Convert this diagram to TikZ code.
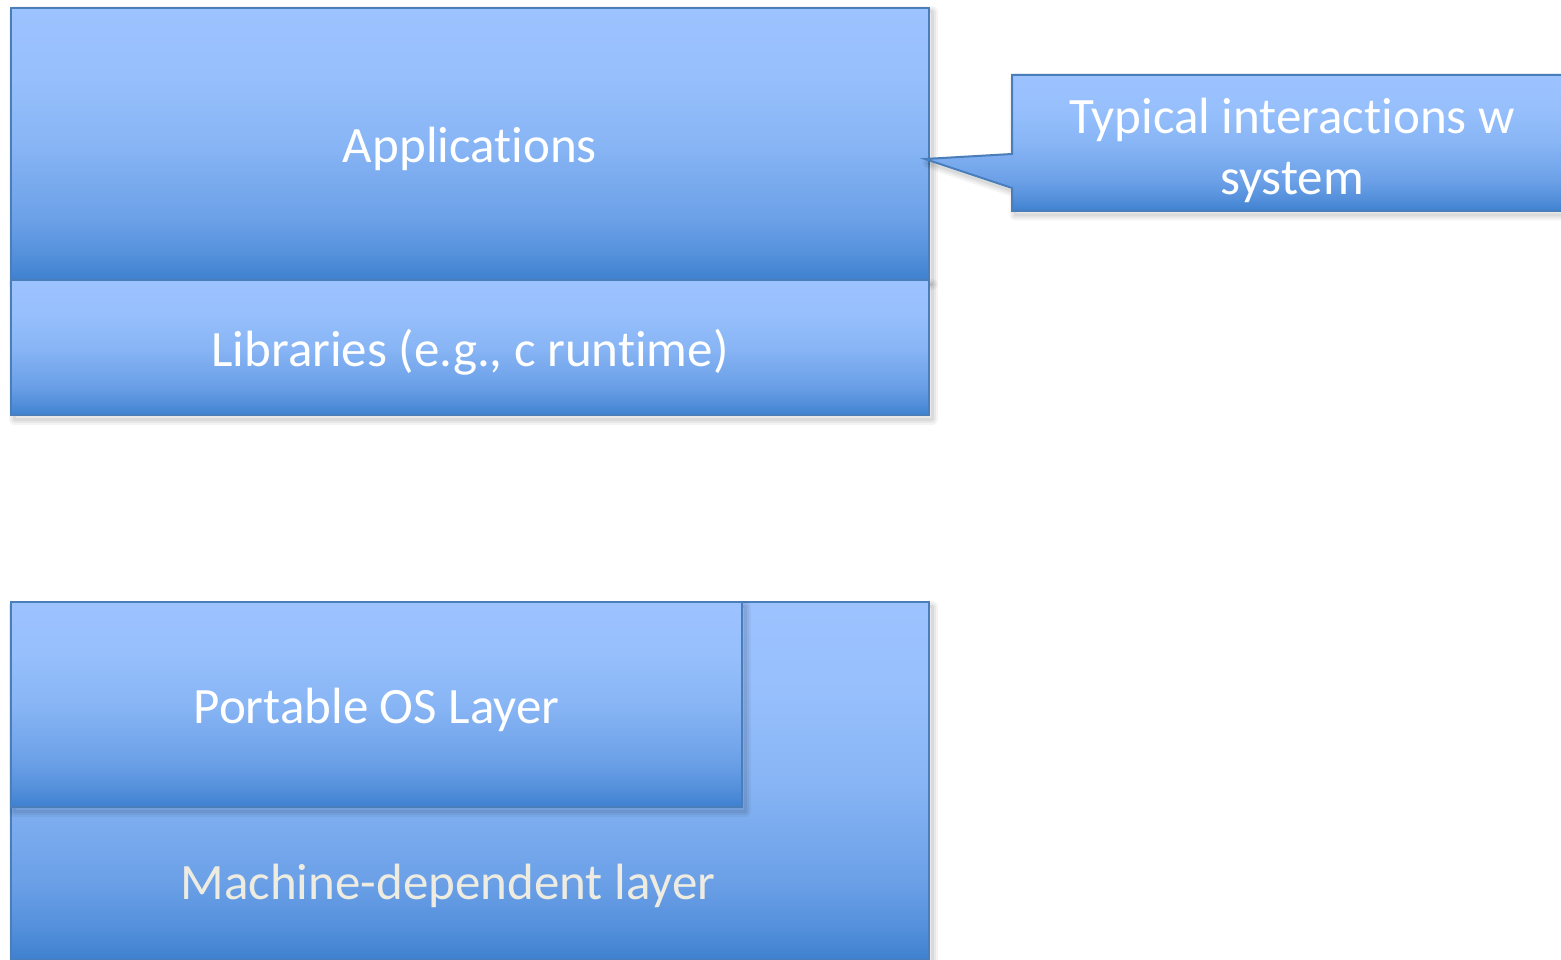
\documentclass[tikz,border=0pt]{standalone}
\usepackage{fontspec}
\setmainfont[RawFeature={-liga}]{Carlito}
\definecolor{boxline}{RGB}{74,126,187}
\definecolor{creamtext}{RGB}{238,236,225}
% Office-style blue fill: light for most of the height, darkening near the bottom
\pgfdeclareverticalshading{layerfill}{100bp}{%
  color(0bp)=(rgb,255:red,62;green,129;blue,208);
  color(25bp)=(rgb,255:red,62;green,129;blue,208);
  color(30bp)=(rgb,255:red,86;green,145;blue,220);
  color(36bp)=(rgb,255:red,107;green,160;blue,231);
  color(50bp)=(rgb,255:red,136;green,181;blue,245);
  color(62bp)=(rgb,255:red,150;green,191;blue,252);
  color(75bp)=(rgb,255:red,157;green,195;blue,255);
  color(100bp)=(rgb,255:red,157;green,195;blue,255)}
\tikzset{
  shadowstroke/.style={draw=black, line join=round, transform canvas={xshift=3pt, yshift=-4pt}},
  softshadow/.style={
    preaction={shadowstroke, draw opacity=0.045, line width=11pt},
    preaction={shadowstroke, draw opacity=0.05, line width=7pt},
    preaction={shadowstroke, draw opacity=0.06, line width=3pt}},
  bluefill/.style={draw=boxline, line width=2pt, shading=layerfill, softshadow},
  txt/.style={font=\fontsize{51}{61}\selectfont},
  layerbox/.style={bluefill, anchor=north west, inner sep=0pt, text=white, txt,
    text height=48pt, text depth=10pt},
  lbl/.style={inner sep=0pt, txt, align=center},
}
\begin{document}
\begin{tikzpicture}[x=1pt, y=-1pt]
  \useasboundingbox (0,0) rectangle (1561,960);
  \clip (0,0) rectangle (1561,960);

  % upper stack
  \node[layerbox, minimum width=918pt, minimum height=272pt] (apps) at (10,7) {Applications};
  \node[layerbox, minimum width=918pt, minimum height=135pt] (libs) at (10,279) {Libraries (e.g., c runtime)};

  % lower stack
  \node[layerbox, minimum width=918pt, minimum height=358pt] (machine) at (10,601) {};
  \node[lbl, text=creamtext] (machinetext) at (448,886) {Machine-dependent layer};
  \node[layerbox, minimum width=731pt, minimum height=205pt] (portable) at (10,601) {Portable OS Layer};

  % callout pointing at the applications box
  \coordinate (tip) at (925,159);
  \coordinate (c1) at (1012,75);
  \coordinate (c2) at (1575,75);
  \coordinate (c3) at (1575,211);
  \coordinate (c4) at (1012,211);
  \coordinate (b1) at (1012,188);
  \coordinate (b2) at (1012,154);
  \path[bluefill]
    (c1) -- (c2) -- (c3) -- (c4) -- (b1) -- (tip) -- (b2) -- cycle;
  \node[lbl, text=white] (note) at (1292,150) {Typical interactions w\\system};
\end{tikzpicture}
\end{document}
